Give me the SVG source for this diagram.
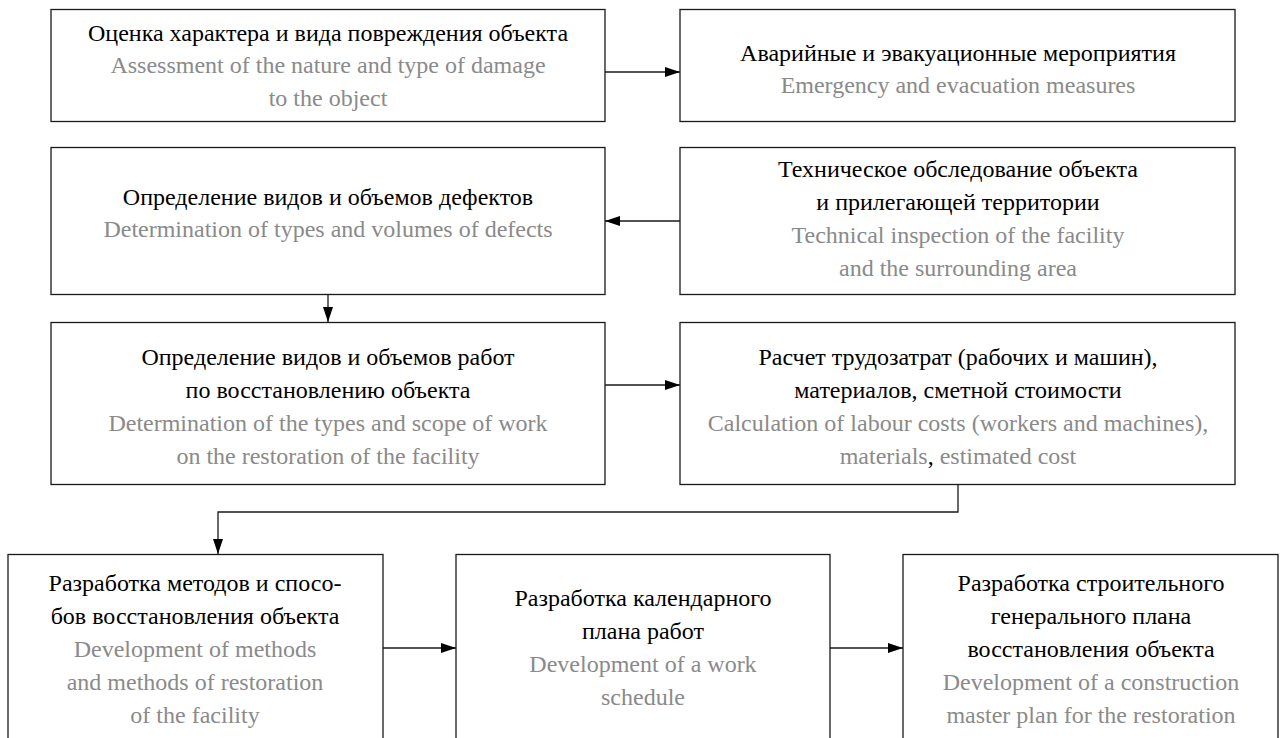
<svg xmlns="http://www.w3.org/2000/svg" width="1280" height="738" viewBox="0 0 1280 738">
<style>
.box{fill:#fff;stroke:#1a1a1a;stroke-width:1.3}
.t{font-size:24px;text-anchor:middle}
.ru{fill:#000}
.en{fill:#8a8a8a}
.con{fill:none;stroke:#1a1a1a;stroke-width:1.3}
</style>
<defs>
<marker id="ah" markerUnits="userSpaceOnUse" markerWidth="15" markerHeight="11" refX="15" refY="5.5" orient="auto">
<path d="M0,0.5 L15,5.5 L0,10.5 z" fill="#000"/>
</marker>
</defs>
<rect width="1280" height="738" fill="#fff"/>
<g class="t" font-family="Liberation Serif, Times New Roman, serif">
<g id="n1">
<rect class="box" x="51" y="9.5" width="554" height="112"/>
<text class="ru" x="328" y="41">Оценка характера и вида повреждения объекта</text>
<text class="en" x="328" y="73">Assessment of the nature and type of damage</text>
<text class="en" x="328" y="106">to the object</text>
</g>
<g id="n2">
<rect class="box" x="680" y="9.5" width="555" height="112"/>
<text class="ru" x="958" y="61">Аварийные и эвакуационные мероприятия</text>
<text class="en" x="958" y="93">Emergency and evacuation measures</text>
</g>
<g id="n3">
<rect class="box" x="51" y="147.5" width="554" height="147"/>
<text class="ru" x="328" y="205">Определение видов и объемов дефектов</text>
<text class="en" x="328" y="237">Determination of types and volumes of defects</text>
</g>
<g id="n4">
<rect class="box" x="680" y="147.5" width="555" height="147"/>
<text class="ru" x="958" y="177">Техническое обследование объекта</text>
<text class="ru" x="958" y="210">и прилегающей территории</text>
<text class="en" x="958" y="243">Technical inspection of the facility</text>
<text class="en" x="958" y="276">and the surrounding area</text>
</g>
<g id="n5">
<rect class="box" x="51" y="322.5" width="554" height="162"/>
<text class="ru" x="328" y="365">Определение видов и объемов работ</text>
<text class="ru" x="328" y="398">по восстановлению объекта</text>
<text class="en" x="328" y="431">Determination of the types and scope of work</text>
<text class="en" x="328" y="464">on the restoration of the facility</text>
</g>
<g id="n6">
<rect class="box" x="680" y="322.5" width="555" height="162"/>
<text class="ru" x="958" y="365">Расчет трудозатрат (рабочих и машин),</text>
<text class="ru" x="958" y="398">материалов, сметной стоимости</text>
<text class="en" x="958" y="431">Calculation of labour costs (workers and machines),</text>
<text class="en" x="958" y="464">materials<tspan fill="#000">,</tspan> estimated cost</text>
</g>
<g id="n7">
<rect class="box" x="8" y="554.5" width="375" height="200"/>
<text class="ru" x="195" y="591">Разработка методов и спосо-</text>
<text class="ru" x="195" y="624">бов восстановления объекта</text>
<text class="en" x="195" y="657">Development of methods</text>
<text class="en" x="195" y="690">and methods of restoration</text>
<text class="en" x="195" y="723">of the facility</text>
</g>
<g id="n8">
<rect class="box" x="456" y="554.5" width="374" height="200"/>
<text class="ru" x="643" y="606">Разработка календарного</text>
<text class="ru" x="643" y="639">плана работ</text>
<text class="en" x="643" y="672">Development of a work</text>
<text class="en" x="643" y="705">schedule</text>
</g>
<g id="n9">
<rect class="box" x="903" y="554.5" width="375" height="200"/>
<text class="ru" x="1091" y="591">Разработка строительного</text>
<text class="ru" x="1091" y="624">генерального плана</text>
<text class="ru" x="1091" y="657">восстановления объекта</text>
<text class="en" x="1091" y="690">Development of a construction</text>
<text class="en" x="1091" y="723">master plan for the restoration</text>
</g>
</g>
<g id="connectors">
<path class="con" d="M605,72 H680" marker-end="url(#ah)"/>
<path class="con" d="M680,221 H605" marker-end="url(#ah)"/>
<path class="con" d="M328,294 V322" marker-end="url(#ah)"/>
<path class="con" d="M605,385 H680" marker-end="url(#ah)"/>
<path class="con" d="M958,484 V512 H218 V554" marker-end="url(#ah)"/>
<path class="con" d="M383,648 H456" marker-end="url(#ah)"/>
<path class="con" d="M830,648 H903" marker-end="url(#ah)"/>
</g>
</svg>
